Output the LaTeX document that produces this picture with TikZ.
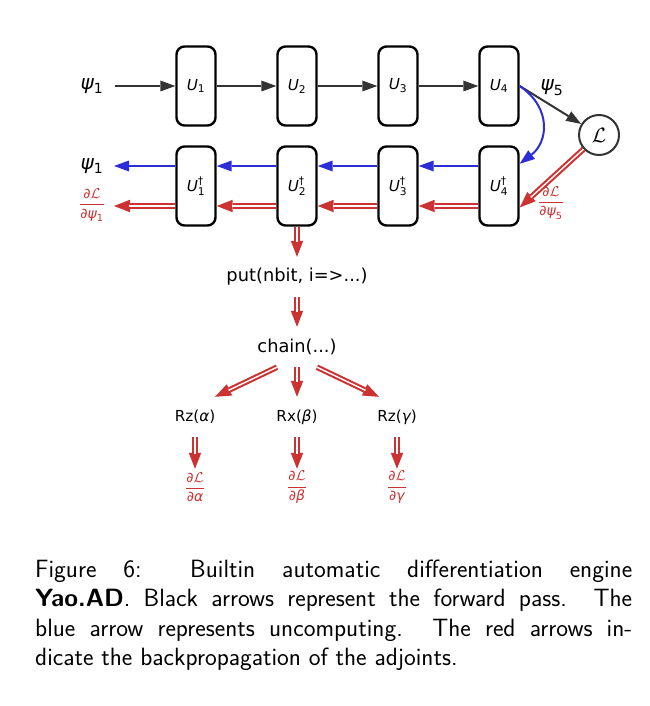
\documentclass[tikz,border=0pt]{standalone}
\usepackage{amsmath}
\usepackage{fontspec}
\usetikzlibrary{arrows.meta}
\newfontfamily\dvs{DejaVu Sans}
\definecolor{fwd}{RGB}{51,51,51}
\definecolor{unc}{RGB}{45,45,215}
\definecolor{adj}{RGB}{205,50,50}
\newcommand{\dv}[1]{\text{\dvs #1}}
\newcommand{\dvi}[1]{\text{\dvs\itshape #1}}
\newcommand{\grad}[1]{$\dfrac{\dv{∂}\mathcal{L}}{\dv{∂}#1}$}
\begin{document}
\begin{tikzpicture}[x=1pt,y=-1pt,
  gate/.style={draw=black, line width=2.4pt, rounded corners=8pt, minimum width=39pt, minimum height=79pt, inner sep=0pt, fill=white, font=\dvs\fontsize{15.2}{18}\selectfont},
  lbl/.style={inner sep=0pt, font=\dvs\fontsize{20}{24}\selectfont},
  code/.style={inner sep=0pt, minimum height=40pt, font=\dvs\fontsize{17.8}{21}\selectfont},
  rot/.style={inner sep=0pt, minimum height=40pt, font=\dvs\fontsize{15.2}{18}\selectfont},
  gradlbl/.style={inner sep=0pt, text=adj, font=\dvs\fontsize{14}{16}\selectfont},
  gradbot/.style={gradlbl, minimum height=36pt},
  fwdarr/.style={draw=fwd, line width=2pt, -{Triangle[length=15pt,width=11pt,line width=0pt]}},
  uncarr/.style={draw=unc, line width=2pt, -{Triangle[length=15pt,width=11pt,line width=0pt]}},
  adjarr/.style={draw=adj, line width=5.6pt, -{Triangle[length=16pt,width=12.5pt,line width=0pt]},
    postaction={draw=white, line width=1.4pt, -, shorten >=15pt}}
]
\useasboundingbox (0,0) rectangle (649,706);

% forward gates
\node[gate] (U1) at (196,86) {$\dvi{U}_{\dv{1}}$};
\node[gate] (U2) at (297,86) {$\dvi{U}_{\dv{2}}$};
\node[gate] (U3) at (398,86) {$\dvi{U}_{\dv{3}}$};
\node[gate] (U4) at (499,86) {$\dvi{U}_{\dv{4}}$};
% adjoint gates
\node[gate] (U1b) at (196,186) {$\dvi{U}_{\dv{1}}^{\dv{†}}$};
\node[gate] (U2b) at (297,186) {$\dvi{U}_{\dv{2}}^{\dv{†}}$};
\node[gate] (U3b) at (398,186) {$\dvi{U}_{\dv{3}}^{\dv{†}}$};
\node[gate] (U4b) at (499,186) {$\dvi{U}_{\dv{4}}^{\dv{†}}$};

% labels
\node[lbl] (psiin) at (92,86) {$\dvi{ψ}_{\dv{1}}$};
\node[lbl] (psiout) at (92,166) {$\dvi{ψ}_{\dv{1}}$};
\node[gradlbl] (gout) at (92,205) {\grad{\dvi{ψ}_{\dv{1}}}};
\node[lbl] (psi5) at (552,88) {$\dvi{ψ}_{\dv{5}}$};
\node[gradlbl] (g5) at (551,203) {\grad{\dvi{ψ}_{\dv{5}}}};
\node[draw=fwd, circle, line width=2pt, minimum size=40pt, inner sep=0pt, fill=white, font=\fontsize{20}{24}\selectfont] (L) at (599,135) {$\mathcal{L}$};

\coordinate (in) at (115,86);
\coordinate (outpsi) at (114,166);
\coordinate (outadj) at (114,206);

% forward pass
\draw[fwdarr] (in) -- (U1);
\draw[fwdarr] (U1) -- (U2);
\draw[fwdarr] (U2) -- (U3);
\draw[fwdarr] (U3) -- (U4);
\draw[fwdarr] (U4.east) -- (L);

% uncomputing
\draw[uncarr] (U4.east) .. controls (552,108) and (548,142) .. (U4b.47);
\draw[uncarr] ([yshift=20pt]U4b.west) -- ([yshift=20pt]U3b.east);
\draw[uncarr] ([yshift=20pt]U3b.west) -- ([yshift=20pt]U2b.east);
\draw[uncarr] ([yshift=20pt]U2b.west) -- ([yshift=20pt]U1b.east);
\draw[uncarr] ([yshift=20pt]U1b.west) -- (outpsi);

% adjoints
\draw[adjarr] (L) -- (U4b.-46.7);
\draw[adjarr] ([yshift=-20pt]U4b.west) -- ([yshift=-20pt]U3b.east);
\draw[adjarr] ([yshift=-20pt]U3b.west) -- ([yshift=-20pt]U2b.east);
\draw[adjarr] ([yshift=-20pt]U2b.west) -- ([yshift=-20pt]U1b.east);
\draw[adjarr] ([yshift=-20pt]U1b.west) -- (outadj);

% lower tree
\node[code] (put) at (297,277) {put(nbit, i=>...)};
\node[code] (chain) at (297,347) {chain(...)};
\node[rot] (rza) at (195,417) {Rz($\dvi{α}$)};
\node[rot] (rxb) at (297,417) {Rx($\dvi{β}$)};
\node[rot] (rzg) at (397,417) {Rz($\dvi{γ}$)};
\node[gradbot] (ga) at (195,487) {\grad{\dvi{α}}};
\node[gradbot] (gb) at (297,487) {\grad{\dvi{β}}};
\node[gradbot] (gg) at (397,487) {\grad{\dvi{γ}}};

\draw[adjarr] (U2b.south) -- (put.north);
\draw[adjarr] (put.south) -- (chain.north);
\draw[adjarr] ([xshift=-20pt]chain.south) -- ([xshift=20pt]rza.north);
\draw[adjarr] (chain.south) -- (rxb.north);
\draw[adjarr] ([xshift=20pt]chain.south) -- ([xshift=-18pt]rzg.north);
\draw[adjarr] (rza.south) -- (ga.north);
\draw[adjarr] (rxb.south) -- (gb.north);
\draw[adjarr] (rzg.south) -- (gg.north);

% caption
\node[anchor=base west, inner sep=0pt, text width=597pt, align=justify,
  font=\sffamily\fontsize{25}{29.5}\selectfont] (cap) at (35,577)
{Figure 6: Builtin automatic differentiation engine\linebreak
\textbf{Yao.AD}. Black arrows represent the forward pass. The\linebreak
blue arrow represents uncomputing. The red arrows in-\linebreak
dicate the backpropagation of the adjoints.};
\end{tikzpicture}
\end{document}
